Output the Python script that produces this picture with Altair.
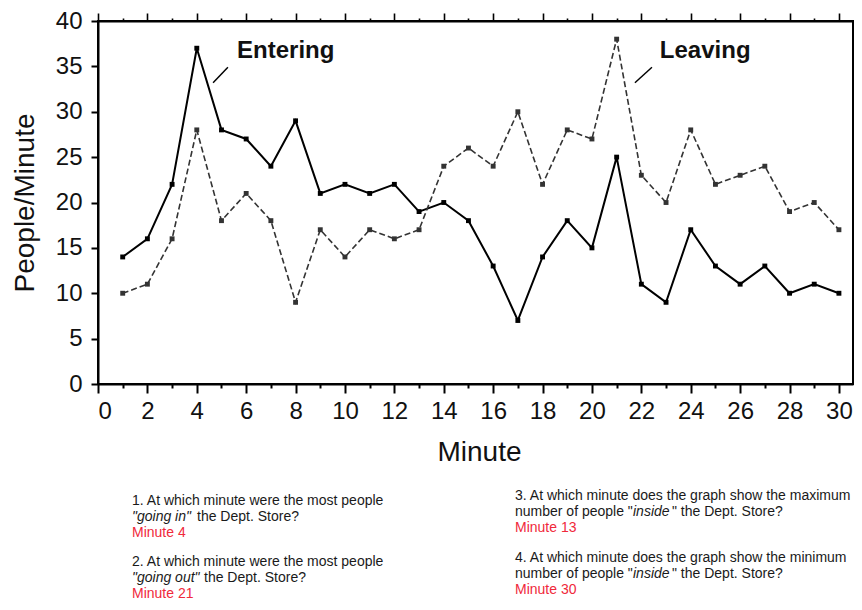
import altair as alt
import pandas as pd

# ---- data ----
minutes = list(range(1, 31))
entering = [14, 16, 22, 37, 28, 27, 24, 29, 21, 22, 21, 22, 19, 20, 18,
            13, 7, 14, 18, 15, 25, 11, 9, 17, 13, 11, 13, 10, 11, 10]
leaving = [10, 11, 16, 28, 18, 21, 18, 9, 17, 14, 17, 16, 17, 24, 26,
           24, 30, 22, 28, 27, 38, 23, 20, 28, 22, 23, 24, 19, 20, 17]
x_major = list(range(0, 31, 2))
x_minor = list(range(1, 30, 2))
y_ticks = list(range(0, 41, 5))
series_names = ["Entering", "Leaving"]
x_title = "Minute"
y_title = "People/Minute"

questions = [
    ["1. At which minute were the most people", "\"going in\"", "the Dept. Store?", "Minute 4"],
    ["2. At which minute were the most people", "\"going out\"", "the Dept. Store?", "Minute 21"],
    ["3. At which minute does the graph show the maximum", "number of people \"", "inside", "\" the Dept. Store?", "Minute 13"],
    ["4. At which minute does the graph show the minimum", "number of people \"", "inside", "\" the Dept. Store?", "Minute 30"],
]

df = pd.DataFrame({"minute": minutes, "entering": entering, "leaving": leaving})

FONT = "Liberation Sans"
W, H = 755, 363
X0, Y0 = 98, 21  # page position of plot origin
xscale = alt.Scale(domain=[0, 30.57], nice=False, zero=False)
yscale = alt.Scale(domain=[0, 40], nice=False)

y_axis = alt.Axis(orient="left", values=y_ticks, tickSize=7, tickWidth=2, labelPadding=9,
                  labelFontSize=24, labelFont=FONT, labelColor="#111",
                  title=y_title, titleFont=FONT, titleFontSize=28, titleFontWeight="normal",
                  titleColor="#111", titleX=-73, titleY=H / 2, titleAngle=-90,
                  titleAlign="center", titleBaseline="middle",
                  domainWidth=2, domainColor="black", tickColor="black")

ax_bottom_major = alt.Axis(orient="bottom", values=x_major, tickSize=9, tickWidth=2,
                           labelPadding=6, labelFontSize=24, labelFont=FONT, labelColor="#111",
                           format="d", title=x_title, titleFont=FONT, titleFontSize=28,
                           titleFontWeight="normal", titleColor="#111", titleY=76,
                           titleX=381, titleBaseline="alphabetic",
                           domainWidth=2, domainColor="black", tickColor="black")
ax_bottom_minor = alt.Axis(orient="bottom", values=x_minor, tickSize=4, tickWidth=2,
                           labels=False, domain=False, title=None, tickColor="black")
ax_top_major = alt.Axis(orient="top", values=x_major, tickSize=8, tickWidth=1.6,
                        labels=False, title=None, domainWidth=2, domainColor="black",
                        tickColor="black")
ax_top_minor = alt.Axis(orient="top", values=x_minor, tickSize=3, tickWidth=1.6,
                        labels=False, domain=False, title=None, tickColor="black")

base = alt.Chart(df)

enter_line = base.mark_line(color="black", strokeWidth=2).encode(
    x=alt.X("minute:Q", scale=xscale, axis=ax_bottom_major),
    y=alt.Y("entering:Q", scale=yscale, axis=y_axis),
)
leave_line = base.mark_line(color="#333333", strokeWidth=1.6, strokeDash=[6, 3]).encode(
    x=alt.X("minute:Q", scale=xscale, axis=ax_bottom_minor),
    y=alt.Y("leaving:Q", scale=yscale, axis=None),
)
enter_pts = base.mark_point(shape="square", filled=True, size=24, color="black", opacity=1).encode(
    x=alt.X("minute:Q", scale=xscale, axis=ax_top_major),
    y=alt.Y("entering:Q", scale=yscale, axis=None),
)
leave_pts = base.mark_point(shape="square", filled=True, size=24, color="#333333", opacity=1).encode(
    x=alt.X("minute:Q", scale=xscale, axis=ax_top_minor),
    y=alt.Y("leaving:Q", scale=yscale, axis=None),
)

# series labels with pointer lines (data coordinates)
label_pos = [(5.63, 36.7), (22.75, 36.7)]
pointer_pos = [(5.26, 34.9, 4.66, 33.2), (22.43, 34.9, 21.74, 33.2)]

dummy = pd.DataFrame({"k": [0]})
layers = [enter_line, leave_line, enter_pts, leave_pts]
for name, (lx, ly) in zip(series_names, label_pos):
    layers.append(
        alt.Chart(dummy).mark_text(text=name, align="left", baseline="middle", font=FONT,
                                   fontSize=24, fontWeight="bold", color="#111").encode(
            x=alt.XDatum(lx, scale=xscale, axis=None),
            y=alt.YDatum(ly, scale=yscale, axis=None),
        )
    )
for (ax1, ay1, ax2, ay2) in pointer_pos:
    layers.append(
        alt.Chart(dummy).mark_rule(color="black", strokeWidth=1.5).encode(
            x=alt.XDatum(ax1, scale=xscale, axis=None),
            y=alt.YDatum(ay1, scale=yscale, axis=None),
            x2=alt.X2Datum(ax2),
            y2=alt.Y2Datum(ay2),
        )
    )


def txt(s, px, py, italic=False, color="#1a1a1a"):
    return alt.Chart(dummy).mark_text(
        text=s, align="left", baseline="alphabetic", font=FONT, fontSize=14,
        fontStyle="italic" if italic else "normal", color=color,
    ).encode(x=alt.value(px - X0), y=alt.value(py - Y0))


RED = "#f0293b"
q1, q2, q3, q4 = questions
# left column
layers += [txt(q1[0], 132, 505), txt(q1[1], 132, 521, italic=True), txt(q1[2], 197, 521),
           txt(q1[3], 132, 537, color=RED)]
layers += [txt(q2[0], 132, 566), txt(q2[1], 132, 582, italic=True), txt(q2[2], 204, 582),
           txt(q2[3], 132, 598, color=RED)]
# right column
layers += [txt(q3[0], 515, 500), txt(q3[1], 515, 516), txt(q3[2], 633, 516, italic=True),
           txt(q3[3], 672, 516), txt(q3[4], 515, 532, color=RED)]
layers += [txt(q4[0], 515, 562), txt(q4[1], 515, 578), txt(q4[2], 633, 578, italic=True),
           txt(q4[3], 672, 578), txt(q4[4], 515, 594, color=RED)]

chart = alt.layer(*layers).resolve_axis(x="independent", y="independent").properties(
    width=W, height=H,
    autosize=alt.AutoSizeParams(type="none"),
    padding={"left": 90, "top": 13, "right": 1, "bottom": 216},
    background="white",
).configure_axis(grid=False).configure_view(stroke="black", strokeWidth=2)

chart.save("out.html", embed_options={"renderer": "svg", "actions": False})
